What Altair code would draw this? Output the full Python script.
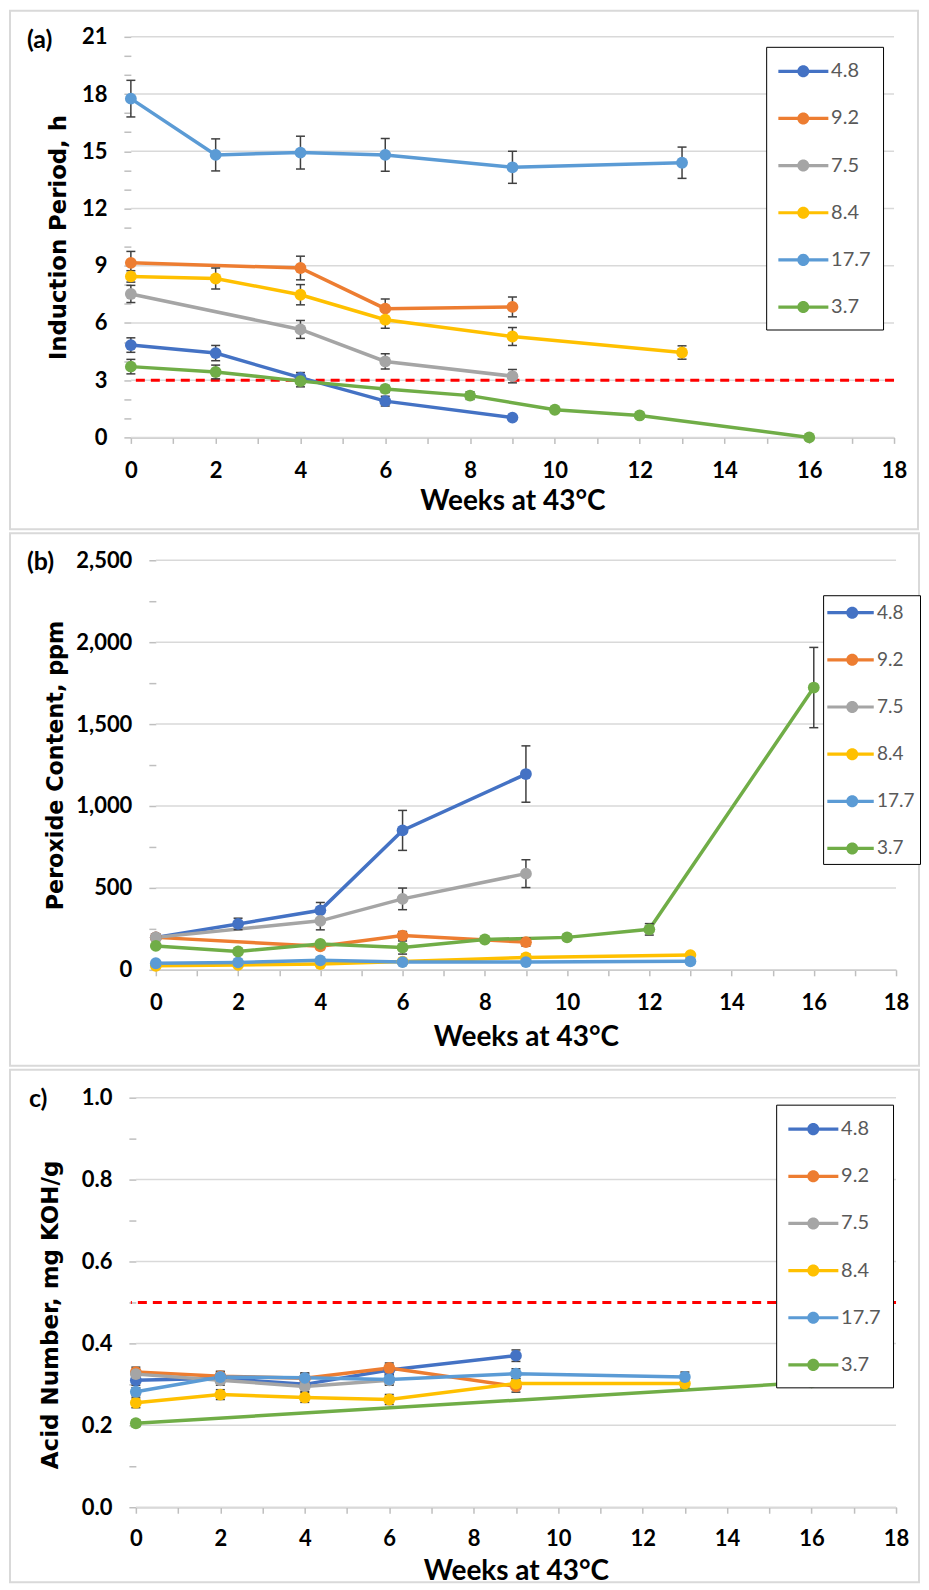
import altair as alt
import pandas as pd

series = ["4.8", "9.2", "7.5", "8.4", "17.7", "3.7"]
colors = ["#4472C4", "#ED7D31", "#A5A5A5", "#FFC000", "#5B9BD5", "#70AD47"]

# ---------------- (a) Induction period, h ----------------
a_weeks = {
    "4.8": [0, 2, 4, 6, 9],
    "9.2": [0, 4, 6, 9],
    "7.5": [0, 4, 6, 9],
    "8.4": [0, 2, 4, 6, 9, 13],
    "17.7": [0, 2, 4, 6, 9, 13],
    "3.7": [0, 2, 4, 6, 8, 10, 12, 16],
}
a_vals = {
    "4.8": [4.84, 4.42, 3.13, 1.90, 1.04],
    "9.2": [9.15, 8.88, 6.75, 6.84],
    "7.5": [7.52, 5.66, 3.98, 3.21],
    "8.4": [8.44, 8.33, 7.48, 6.17, 5.29, 4.45],
    "17.7": [17.76, 14.81, 14.93, 14.81, 14.16, 14.40],
    "3.7": [3.71, 3.43, 2.95, 2.54, 2.19, 1.45, 1.15, 0.0],
}
a_errs = {
    "4.8": [0.38, 0.40, 0.27, 0.26, 0.12],
    "9.2": [0.60, 0.62, 0.50, 0.52],
    "7.5": [0.45, 0.47, 0.40, 0.35],
    "8.4": [0.30, 0.55, 0.53, 0.45, 0.47, 0.35],
    "17.7": [0.96, 0.84, 0.86, 0.86, 0.84, 0.82],
    "3.7": [0.38, 0.36, 0.30, 0.18, 0.20, 0.12, 0.12, 0.05],
}

# ---------------- (b) Peroxide content, ppm ----------------
b_weeks = {
    "4.8": [0, 2, 4, 6, 9],
    "9.2": [0, 4, 6, 9],
    "7.5": [0, 4, 6, 9],
    "8.4": [0, 2, 4, 6, 9, 13],
    "17.7": [0, 2, 4, 6, 9, 13],
    "3.7": [0, 2, 4, 6, 8, 10, 12, 16],
}
b_vals = {
    "4.8": [198, 280, 363, 851, 1195],
    "9.2": [198, 144, 209, 169],
    "7.5": [198, 299, 433, 587],
    "8.4": [25, 30, 35, 50, 75, 90],
    "17.7": [40, 45, 58, 47, 47, 52],
    "3.7": [146, 112, 158, 136, 185, 198, 247, 1723],
}
b_errs = {
    "4.8": [20, 35, 48, 122, 172],
    "9.2": [15, 20, 25, 25],
    "7.5": [15, 55, 66, 85],
    "8.4": [5, 5, 5, 5, 20, 10],
    "17.7": [5, 5, 5, 5, 5, 5],
    "3.7": [10, 10, 15, 40, 15, 15, 35, 245],
}

# ---------------- (c) Acid number, mg KOH/g ----------------
c_weeks = {
    "4.8": [0, 2, 4, 6, 9],
    "9.2": [0, 2, 4, 6, 9],
    "7.5": [0, 2, 4, 6],
    "8.4": [0, 2, 4, 6, 9, 13],
    "17.7": [0, 2, 4, 6, 9, 13],
    "3.7": [0, 16],
}
c_vals = {
    "4.8": [0.310, 0.315, 0.300, 0.335, 0.370],
    "9.2": [0.330, 0.320, 0.315, 0.340, 0.295],
    "7.5": [0.325, 0.310, 0.295, 0.310],
    "8.4": [0.255, 0.275, 0.268, 0.263, 0.302, 0.302],
    "17.7": [0.282, 0.318, 0.316, 0.312, 0.326, 0.318],
    "3.7": [0.205, 0.305],
}
c_errs = {
    "4.8": [0.012, 0.012, 0.012, 0.012, 0.014],
    "9.2": [0.012, 0.012, 0.012, 0.012, 0.014],
    "7.5": [0.012, 0.012, 0.012, 0.012],
    "8.4": [0.012, 0.012, 0.012, 0.012, 0.012, 0.010],
    "17.7": [0.010, 0.012, 0.012, 0.012, 0.012, 0.012],
    "3.7": [0.008, 0.008],
}

thresholds = {"a": [3.0], "c": [0.5]}
x_ticks = list(range(0, 19))
a_ticks = list(range(0, 22))
a_major = [v for v in a_ticks if v % 3 == 0]
b_ticks = [i * 250 for i in range(0, 11)]
b_major = [v for v in b_ticks if v % 500 == 0]
c_ticks = [round(i * 0.1, 1) for i in range(0, 11)]
c_major = [round(i * 0.2, 1) for i in range(0, 6)]

X_TITLE = "Weeks at 43°C"
# legend glyph: a 3px line with a round marker on it
PATH_AC = ("M-1,-0.13L3.07,-0.13L3.07,0.13L-1,0.13Z "
           "M1.52,0A0.49,0.49,0,1,1,0.54,0A0.49,0.49,0,1,1,1.52,0Z")
PATH_B = ("M-1.08,-0.13L2.7,-0.13L2.7,0.13L-1.08,0.13Z "
          "M1.44,0A0.49,0.49,0,1,1,0.46,0A0.49,0.49,0,1,1,1.44,0Z")
GRID = "#D9D9D9"
line_keys = ["line " + s for s in series]


def frame(weeks, vals, errs):
    rows = []
    for s in series:
        for w, v, e in zip(weeks[s], vals[s], errs[s]):
            rows.append({"series": s, "skey": "line " + s, "week": w, "value": v,
                         "low": v - e, "high": v + e})
    return pd.DataFrame(rows)


def panel(df, GW, x0, H, ticks, major, major_test, fmt, ytitle, ytitle_x,
          ytitle_size, ytitle_dy, xtitle_y, xlab_pad, tag, box, leg, thr=None):
    ymax = ticks[-1]
    xs = alt.Scale(domain=[0, 18], nice=False, zero=False, range=[x0, GW])
    ys = alt.Scale(domain=[0, ymax], nice=False, zero=False)
    x_axis = alt.Axis(
        values=x_ticks,
        labelExpr="datum.value % 2 === 0 ? datum.label : ''",
        gridOpacity={"condition": {"test": "datum.value % 2 === 0", "value": 1}, "value": 0},
        gridColor=GRID, gridWidth=1.5,
        domain=True, domainColor="#BFBFBF", domainWidth=1.5,
        tickColor="#BFBFBF", tickSize=6, tickWidth=1.5,
        labelFont="Lato", labelFontSize=22, labelFontWeight="bold", labelColor="#000000",
        labelPadding=xlab_pad, labelOverlap=False, labelFlush=False, labelBound=False,
        title=X_TITLE, titleFont="Lato", titleFontSize=28, titleFontWeight="bold",
        titleColor="#000000", titleX=(x0 + GW) / 2, titleY=xtitle_y,
        titleBaseline="alphabetic", titleAlign="center",
    )
    y_axis = alt.Axis(
        values=ticks, format=fmt, offset=-x0,
        labelExpr=f"({major_test}) ? datum.label : ''",
        grid=False, domain=False,
        tickColor="#BFBFBF", tickSize=7, tickWidth=1.5,
        labelFont="Lato", labelFontSize=22, labelFontWeight="bold", labelColor="#000000",
        labelPadding=17, labelOverlap=False, labelFlush=False, labelBound=False,
        title=ytitle, titleFont="DejaVu Sans", titleFontSize=ytitle_size,
        titleFontWeight="bold",
        titleColor="#000000", titleAngle=270, titleX=ytitle_x, titleY=H / 2 + ytitle_dy,
        titleBaseline="alphabetic", titleAlign="center",
    )
    cscale = alt.Scale(domain=series, range=colors)
    sscale = alt.Scale(domain=line_keys, range=colors)

    def X(field):
        return alt.X(field, scale=xs, axis=x_axis)

    def Y(field):
        return alt.Y(field, scale=ys, axis=y_axis)

    border = alt.Chart(alt.Data(values=[{"k": 1}])).mark_rect(
        fillOpacity=0, stroke=GRID, strokeWidth=2
    ).encode(
        x=alt.value(box[0]), x2=alt.value(box[1]),
        y=alt.value(box[2]), y2=alt.value(box[3]),
    )
    label = alt.Chart(alt.Data(values=[{"k": 1}])).mark_text(
        align="left", baseline="middle", font="Lato", fontSize=25,
        fontWeight="bold", color="#000000"
    ).encode(x=alt.value(tag[1]), y=alt.value(tag[2]), text=alt.value(tag[0]))

    hgrid = alt.Chart(pd.DataFrame({"g": major})).mark_rule(
        color=GRID, strokeWidth=1.5
    ).encode(
        x=alt.X(datum=0, scale=xs, axis=x_axis),
        x2=alt.X2(datum=18),
        y=Y("g:Q"),
    )

    base = alt.Chart(df)
    lines = base.mark_line(strokeWidth=3.5).encode(
        x=X("week:Q"), y=Y("value:Q"),
        stroke=alt.Stroke("skey:N", scale=sscale, legend=None),
    )
    stems = base.mark_rule(color="#404040", strokeWidth=1.5).encode(
        x=X("week:Q"), y=Y("low:Q"), y2="high:Q"
    )
    cap_lo = base.mark_tick(orient="horizontal", color="#404040", size=9,
                            thickness=1.5, opacity=1).encode(x=X("week:Q"), y=Y("low:Q"))
    cap_hi = base.mark_tick(orient="horizontal", color="#404040", size=9,
                            thickness=1.5, opacity=1).encode(x=X("week:Q"), y=Y("high:Q"))
    pts = base.mark_point(filled=True, size=140, opacity=1).encode(
        x=X("week:Q"), y=Y("value:Q"),
        color=alt.Color("series:N", scale=cscale, legend=alt.Legend(
            title=None, orient="none", legendX=leg["x"], legendY=leg["y"],
            symbolType=leg["path"], symbolSize=605, symbolStrokeWidth=0,
            symbolOpacity=1, labelOffset=leg["lo"], padding=leg["pad"],
            rowPadding=24.2, strokeColor="#000000", fillColor="#FFFFFF",
            labelFont="Lato", labelFontSize=leg["fs"], labelColor="#595959",
        )),
    )
    layers = [border, hgrid]
    if thr is not None:
        rule = alt.Chart(pd.DataFrame({"t": thr})).mark_rule(
            color="#FF0000", strokeWidth=3, strokeDash=[9, 6]
        ).encode(y=Y("t:Q"))
        layers.append(rule)
    layers += [lines, stems, cap_lo, cap_hi, pts, label]
    return alt.layer(*layers).properties(width=GW, height=H)


# every panel shares its group origin at page x = 130
Ha, Hb, Hc = 401, 410, 410

pa = panel(frame(a_weeks, a_vals, a_errs), 764, 0, Ha, a_ticks, a_major,
           "datum.value % 3 === 0", "d", "Induction Period, h", -65, 22.8, 0, 72, 17,
           ("(a)", -104, 3), (-121, 788, -26, Ha + 92),
           {"x": 636, "y": 10, "path": PATH_AC, "lo": 28, "pad": 12, "fs": 20},
           thresholds["a"])
pb = panel(frame(b_weeks, b_vals, b_errs), 766, 25, Hb, b_ticks, b_major,
           "datum.value % 500 === 0", ",d", "Peroxide Content, ppm", -93, 22.3, 0, 76, 17,
           ("(b)", -104, 2), (-121, 789, -27, Hb + 96),
           {"x": 693, "y": 35, "path": PATH_B, "lo": 24, "pad": 5, "fs": 19})
pc = panel(frame(c_weeks, c_vals, c_errs), 766, 5, Hc, c_ticks, c_major,
           "round(datum.value * 10) % 2 === 0", ".1f", "Acid Number, mg KOH/g", -78, 23, 12, 72, 15,
           ("c)", -102, 1), (-121, 789, -28, Hc + 75),
           {"x": 646, "y": 7, "path": PATH_AC, "lo": 28, "pad": 12, "fs": 20},
           thresholds["c"])

chart = alt.concat(pa, pb, pc, columns=1, spacing=0).resolve_scale(
    x="independent", y="independent", color="independent", stroke="independent"
).properties(padding=0, background="#FFFFFF").configure_view(stroke="transparent")

chart.save("out.html", embed_options={"renderer": "svg", "actions": False})
